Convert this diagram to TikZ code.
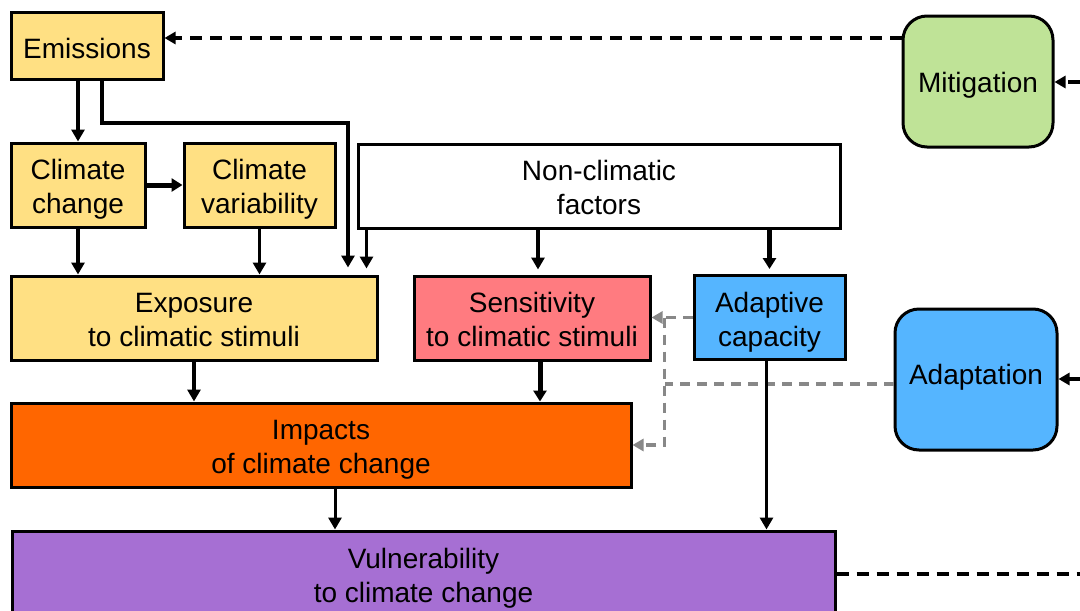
\documentclass[tikz,border=0pt]{standalone}
\usepackage{fontspec}
\setmainfont{Liberation Sans}
\usetikzlibrary{arrows.meta}
\definecolor{cyel}{HTML}{FFE083}
\definecolor{cpink}{HTML}{FF7B80}
\definecolor{cblue}{HTML}{55B5FF}
\definecolor{corange}{HTML}{FF6600}
\definecolor{cpurple}{HTML}{A66FD3}
\definecolor{cgreen}{HTML}{BFE397}
\definecolor{cgrey}{HTML}{888888}
\begin{document}
\begin{tikzpicture}[x=1pt,y=-1pt,
  box/.style={draw=black,line width=3pt,align=center,inner sep=0pt,font=\fontsize{28}{34}\selectfont},
  oneline/.style={box,text height=25pt,text depth=0pt},
  twoline/.style={box,text height=70pt,text depth=13pt},
  rbox/.style={box,rounded corners=24pt},
  arr/.style={line width=3.5pt,-{Triangle[length=12pt,width=13pt]}},
  arrthick/.style={line width=5pt,-{Triangle[length=11pt,width=13pt]}},
  arrthin/.style={line width=3pt,-{Triangle[length=12pt,width=13pt]}},
  dline/.style={line width=3.5pt,dash pattern=on 12pt off 8pt},
  darr/.style={dline,-{Triangle[length=11pt,width=12pt]}},
  gline/.style={draw=cgrey,line width=3.3pt,dash pattern=on 10pt off 7pt},
  garr/.style={gline,-{Triangle[length=11pt,width=12pt]}}]
\useasboundingbox (0,0) rectangle (1080,611);
\clip (0,0) rectangle (1080,611);
\fill[white] (0,0) rectangle (1080,611);

% nodes
\node[oneline,fill=cyel,minimum width=152pt,minimum height=67pt] (em) at (87,45.5) {Emissions};
\node[twoline,fill=cyel,minimum width=134pt,minimum height=84pt] (cc) at (78,185) {Climate\\change};
\node[twoline,fill=cyel,minimum width=151pt,minimum height=84pt] (cv) at (259.5,185) {Climate\\variability};
\node[twoline,fill=white,minimum width=482pt,minimum height=84pt] (ncf) at (599,186) {Non-climatic\\factors};
\node[twoline,fill=cyel,minimum width=366pt,minimum height=84pt] (exp) at (194,318) {Exposure\\to climatic stimuli};
\node[twoline,fill=cpink,minimum width=236pt,minimum height=84pt] (sen) at (532,318) {Sensitivity\\to climatic stimuli};
\node[twoline,fill=cblue,minimum width=151pt,minimum height=84pt] (ac) at (769.5,317.5) {Adaptive\\capacity};
\node[twoline,fill=corange,minimum width=620pt,minimum height=84pt] (imp) at (321,445) {Impacts\\of climate change};
\node[twoline,fill=cpurple,minimum width=823pt,minimum height=86pt] (vul) at (423.5,574) {Vulnerability\\to climate change};
\node[rbox,fill=cgreen,minimum width=150pt,minimum height=131pt,text height=21pt,text depth=0pt] (mit) at (978,81.5) {Mitigation};
\node[rbox,fill=cblue,minimum width=162pt,minimum height=141pt,text height=15pt,text depth=5pt] (ada) at (976,379.5) {Adaptation};

% helper coordinates
\coordinate (e2) at ([xshift=15pt]em.south);
\coordinate (k1) at (348,123);
\coordinate (n1) at ([xshift=10pt]ncf.south west);
\coordinate (n2) at ([xshift=6pt]sen.north);
\coordinate (s1) at ([xshift=8pt]sen.south);
\coordinate (i1) at ([xshift=14pt]imp.south);
\coordinate (a1) at ([xshift=-3pt]ac.south);
\coordinate (gx) at ([xshift=13pt]sen.east);
\coordinate (ad1) at ([yshift=-4.5pt]ada.west);
\coordinate (m1) at ([yshift=7.5pt]em.east);
\coordinate (rm) at (1100,82);
\coordinate (ra) at (1100,379);
\coordinate (rv) at (1100,574);

% grey dashed connectors
\draw[gline] (ad1) -- (gx |- ad1);
\draw[garr] (ac.west) -- (ac.west -| sen.east);
\draw[garr] (gx |- ac.west) |- (imp.east);

% black connectors
\draw[arr] (cc.north |- em.south) -- (cc.north);
\draw[arr,shorten >=7pt] (e2) |- (k1) -- (k1 |- exp.north);
\draw[arrthick] (cc.east) -- (cv.west);
\draw[arr] (cc.south) -- (cc.south |- exp.north);
\draw[arr] (cv.south) -- (cv.south |- exp.north);
\draw[arr,shorten >=6pt] (n1) -- (n1 |- exp.north);
\draw[arr,shorten >=5pt] (n2 |- ncf.south) -- (n2);
\draw[arrthick,shorten >=5pt] (ac.north |- ncf.south) -- (ac.north);
\draw[arr] (exp.south) -- (exp.south |- imp.north);
\draw[arrthick] (s1) -- (s1 |- imp.north);
\draw[arrthin] (i1) -- (i1 |- vul.north);
\draw[arrthin] (a1) -- (a1 |- vul.north);

% dashed black connectors
\draw[darr] (m1 -| mit.west) -- (m1);
\draw[darr] (rm) -- (rm -| mit.east);
\draw[darr] (ra) -- (ra -| ada.east);
\draw[dline] (vul.east |- rv) -- (rv);
\end{tikzpicture}
\end{document}
